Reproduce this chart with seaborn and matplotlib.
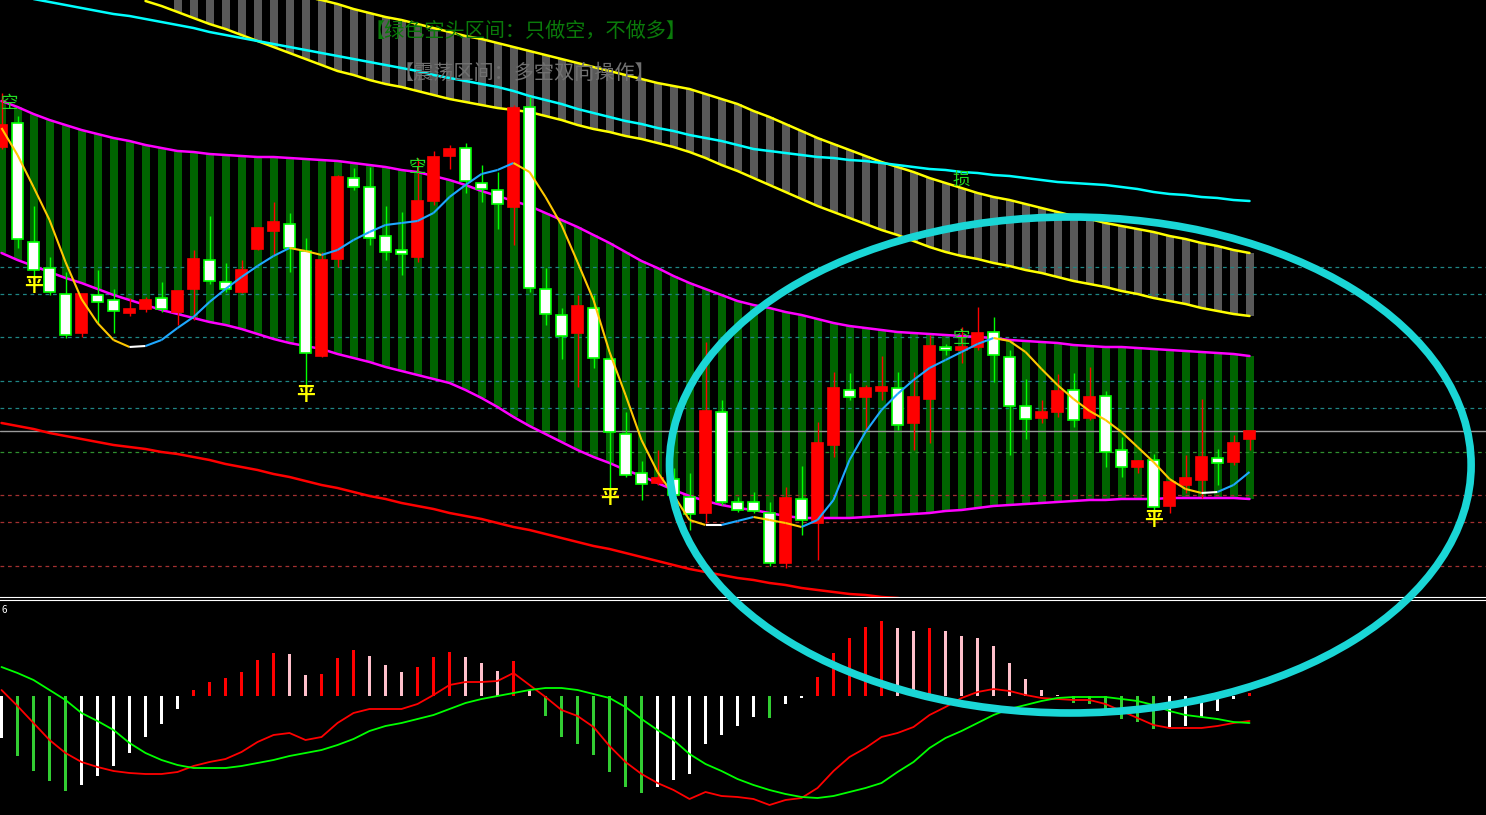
import numpy as np
import matplotlib
matplotlib.use("Agg")
import matplotlib.pyplot as plt
from matplotlib.patches import Ellipse
from matplotlib.collections import LineCollection
import seaborn as sns

nan = np.nan

# candles
opens = [45.3, 47.7, 35.8, 33.2, 30.6, 26.7, 30.5, 30.0, 28.7, 29.1,
         30.2, 28.8, 31.1, 34.0, 31.8, 30.8, 35.1, 36.9, 37.6, 34.9,
         24.4, 34.1, 42.2, 41.3, 36.4, 35.0, 34.3, 39.9, 44.4, 45.2,
         41.7, 41.0, 39.3, 49.3, 31.1, 28.5, 26.7, 29.2, 24.1, 16.6,
         12.7, 11.7, 12.1, 10.3, 8.7, 18.8, 9.8, 9.8, 8.7, 3.7,
         10.1, 7.7, 15.5, 21.0, 20.3, 20.9, 21.2, 17.7, 20.1, 25.3,
         25.0, 25.3, 26.8, 24.3, 19.4, 18.2, 18.8, 21.0, 18.2, 20.4,
         15.0, 13.3, 14.0, 9.4, 11.5, 12.0, 14.2, 13.8, 16.1]
highs = [50.7, 48.4, 39.4, 34.3, 32.8, 30.6, 33.0, 31.1, 30.2, 30.3,
         31.8, 30.9, 35.0, 38.4, 33.7, 34.0, 37.3, 39.8, 38.7, 36.2,
         34.8, 42.5, 43.2, 43.3, 39.4, 38.8, 44.2, 44.9, 45.5, 45.7,
         43.5, 42.8, 49.5, 50.3, 33.2, 29.2, 30.5, 30.5, 24.5, 18.8,
         13.9, 15.0, 13.2, 12.7, 25.8, 20.0, 10.3, 10.8, 9.8, 11.3,
         13.4, 17.8, 22.8, 22.7, 21.5, 24.4, 22.8, 22.8, 26.5, 25.6,
         27.3, 29.3, 28.3, 25.0, 22.1, 20.0, 22.6, 22.7, 23.3, 20.9,
         16.3, 14.0, 14.6, 11.8, 14.5, 20.1, 15.1, 16.5, 16.9]
lows = [45.1, 35.2, 32.3, 30.5, 26.2, 26.3, 27.7, 26.7, 28.4, 28.8,
        28.8, 27.5, 28.0, 31.6, 30.8, 30.7, 35.0, 34.5, 32.8, 21.5,
        24.3, 33.3, 41.0, 35.5, 34.0, 32.5, 33.8, 39.5, 43.1, 40.7,
        39.8, 37.1, 35.5, 30.8, 27.5, 24.1, 21.3, 23.2, 11.0, 12.3,
        10.0, 11.5, 10.3, 7.0, 7.7, 9.5, 8.8, 8.7, 3.4, 3.2,
        6.5, 4.0, 14.3, 20.0, 16.8, 20.0, 17.0, 15.0, 15.7, 24.5,
        23.7, 25.0, 21.8, 14.5, 16.1, 17.7, 18.3, 17.3, 18.0, 13.3,
        12.3, 12.7, 8.8, 8.7, 10.7, 10.2, 11.5, 13.5, 15.0]
closes = [47.5, 36.1, 33.0, 30.8, 26.5, 30.6, 29.8, 28.9, 29.1, 30.0,
          29.1, 30.9, 34.1, 31.9, 31.1, 33.0, 37.2, 37.8, 35.2, 24.7,
          34.0, 42.3, 41.3, 36.2, 34.8, 34.6, 39.9, 44.3, 45.1, 41.9,
          41.1, 39.6, 49.2, 31.2, 28.6, 26.4, 29.4, 24.2, 16.8, 12.5,
          11.6, 12.2, 10.5, 8.6, 18.9, 9.8, 9.0, 8.9, 3.7, 10.2,
          8.0, 15.7, 21.2, 20.3, 21.2, 21.3, 17.5, 20.3, 25.4, 25.0,
          25.3, 26.7, 24.5, 19.4, 18.1, 18.8, 20.9, 18.0, 20.3, 14.8,
          13.3, 13.9, 9.3, 11.8, 12.2, 14.3, 13.7, 15.7, 16.9]

# short moving average (yellow / blue / white)
ma_short = [47.2, 44.5, 41.3, 38.0, 33.8, 30.1, 27.7, 26.0, 25.3, 25.4,
            26.0, 27.2, 28.3, 29.8, 31.1, 32.3, 33.4, 34.4, 35.2, 34.9,
            34.5, 35.0, 36.0, 36.8, 37.5, 37.7, 37.9, 38.7, 40.3, 41.5,
            42.6, 43.0, 43.7, 42.8, 40.3, 37.5, 33.8, 30.0, 24.8, 20.5,
            16.0, 12.8, 10.5, 8.0, 7.5, 7.5, 7.9, 8.3, 8.0, 7.7,
            7.3, 8.0, 10.0, 14.0, 16.8, 19.0, 20.6, 22.0, 23.2, 24.0,
            24.8, 25.6, 26.2, 25.9, 24.8, 23.1, 21.5, 20.1, 18.9, 18.0,
            16.8, 15.3, 13.8, 12.1, 11.1, 10.7, 10.8, 11.5, 12.8]

# green band (magenta borders)
band_hi = [49.9, 49.3, 48.6, 48.0, 47.5, 47.0, 46.6, 46.2, 45.9, 45.5,
           45.2, 44.9, 44.8, 44.6, 44.5, 44.4, 44.3, 44.3, 44.2, 44.1,
           44.0, 43.9, 43.7, 43.5, 43.3, 43.0, 42.8, 42.4, 42.0, 41.5,
           40.9, 40.4, 39.9, 39.4, 38.7, 38.0, 37.3, 36.5, 35.7, 34.8,
           33.9, 33.2, 32.4, 31.7, 31.1, 30.5, 29.9, 29.5, 29.2, 28.8,
           28.5, 28.1, 27.7, 27.4, 27.2, 27.0, 26.8, 26.7, 26.6, 26.5,
           26.4, 26.3, 26.2, 26.0, 25.9, 25.8, 25.7, 25.5, 25.4, 25.3,
           25.3, 25.2, 25.1, 25.0, 24.9, 24.8, 24.7, 24.6, 24.4]
band_lo = [34.7, 34.0, 33.4, 32.8, 32.2, 31.7, 31.1, 30.5, 30.0, 29.5,
           29.0, 28.6, 28.2, 27.8, 27.5, 27.1, 26.6, 26.1, 25.7, 25.4,
           25.1, 24.6, 24.2, 23.8, 23.3, 22.9, 22.5, 22.1, 21.7, 21.0,
           20.2, 19.3, 18.3, 17.4, 16.6, 15.8, 15.0, 14.3, 13.7, 13.0,
           12.4, 11.7, 11.0, 10.4, 9.9, 9.5, 9.2, 9.0, 8.7, 8.4,
           8.2, 8.2, 8.2, 8.2, 8.3, 8.4, 8.5, 8.6, 8.7, 8.9,
           9.0, 9.2, 9.4, 9.5, 9.6, 9.7, 9.8, 9.9, 10.0, 10.0,
           10.1, 10.1, 10.1, 10.2, 10.2, 10.2, 10.2, 10.2, 10.1]

# grey band (yellow borders)
grey_hi = [nan] * 11 + [
    63.4, 63.0, 62.6, 62.2, 61.8, 61.4, 61.0, 60.7, 60.3,
    60.0, 59.6, 59.1, 58.7, 58.3, 58.0, 57.6, 57.2, 56.8, 56.4,
    56.1, 55.7, 55.3, 54.9, 54.5, 54.1, 53.7, 53.3, 52.9, 52.5,
    52.1, 51.7, 51.4, 51.1, 50.6, 50.1, 49.6, 48.9, 48.3, 47.6,
    46.9, 46.2, 45.6, 45.0, 44.4, 43.8, 43.3, 42.8, 42.2, 41.7,
    41.2, 40.7, 40.3, 40.0, 39.6, 39.2, 38.8, 38.4, 38.1, 37.7,
    37.4, 37.1, 36.8, 36.4, 36.1, 35.7, 35.4, 35.0, 34.7]
grey_lo = [nan] * 9 + [
    59.9, 59.4, 58.8, 58.2, 57.6, 57.1, 56.5, 55.9, 55.3, 54.7,
    54.1, 53.5, 52.9, 52.5, 52.0, 51.6, 51.3, 50.9, 50.5, 50.1,
    49.8, 49.5, 49.2, 49.0, 48.8, 48.4, 48.0, 47.5, 47.1, 46.8,
    46.4, 46.1, 45.7, 45.3, 44.8, 44.2, 43.5, 42.9, 42.2, 41.5,
    40.8, 40.1, 39.4, 38.8, 38.2, 37.6, 37.0, 36.5, 35.9, 35.3,
    34.8, 34.4, 34.1, 33.7, 33.4, 33.0, 32.7, 32.3, 31.9, 31.6,
    31.3, 30.9, 30.6, 30.2, 29.9, 29.6, 29.2, 28.9, 28.6, 28.4]

ma_cyan = [60.7, 60.4, 60.1, 59.8, 59.5, 59.2, 58.9, 58.6, 58.4, 58.1,
           57.8, 57.5, 57.2, 56.8, 56.5, 56.2, 55.9, 55.6, 55.3, 55.0,
           54.7, 54.4, 54.1, 53.8, 53.5, 53.2, 52.9, 52.5, 52.2, 51.9,
           51.6, 51.3, 50.9, 50.4, 50.0, 49.6, 49.1, 48.7, 48.3, 47.9,
           47.6, 47.2, 46.9, 46.5, 46.2, 45.9, 45.5, 45.1, 44.9, 44.7,
           44.5, 44.3, 44.2, 44.0, 43.9, 43.7, 43.5, 43.3, 43.1, 43.0,
           42.8, 42.7, 42.5, 42.4, 42.2, 42.0, 41.8, 41.7, 41.6, 41.5,
           41.3, 41.1, 40.8, 40.6, 40.5, 40.3, 40.2, 40.0, 39.9]
ma_long = [17.7, 17.4, 17.1, 16.7, 16.4, 16.1, 15.8, 15.5, 15.3, 15.1,
           14.8, 14.6, 14.3, 14.0, 13.6, 13.3, 13.0, 12.6, 12.3, 11.9,
           11.5, 11.2, 10.8, 10.4, 10.1, 9.7, 9.4, 9.1, 8.7, 8.4,
           8.1, 7.7, 7.3, 7.0, 6.6, 6.2, 5.8, 5.4, 5.1, 4.7,
           4.3, 3.9, 3.5, 3.1, 2.8, 2.5, 2.2, 2.0, 1.7, 1.5,
           1.2, 1.0, 0.8, 0.6, 0.5, 0.3, 0.2, 0.0, -0.1, -0.3,
           -0.4, -0.6, -0.7, -0.9, -1.0, -1.2, -1.3, -1.5, -1.6, -1.8,
           -1.9, -2.1, -2.2, -2.4, -2.5, -2.7, -2.8, -3.0, -3.1]

# price levels
teal_levels = [33.3, 30.6, 26.3, 21.9, 19.2]
last_price = 16.9
green_levels = [14.8]
red_levels = [10.5, 7.8, 3.4]

# MACD
hist = [-0.42, -0.60, -0.75, -0.85, -0.95, -0.89, -0.80, -0.70, -0.57, -0.41,
        -0.28, -0.13, 0.06, 0.14, 0.18, 0.24, 0.36, 0.43, 0.42, 0.21,
        0.22, 0.38, 0.46, 0.40, 0.31, 0.24, 0.29, 0.39, 0.44, 0.39,
        0.33, 0.25, 0.35, 0.06, -0.20, -0.41, -0.48, -0.59, -0.76, -0.91,
        -0.97, -0.91, -0.84, -0.78, -0.48, -0.39, -0.30, -0.21, -0.22, -0.08,
        -0.02, 0.19, 0.43, 0.58, 0.69, 0.75, 0.68, 0.65, 0.68, 0.65,
        0.60, 0.58, 0.50, 0.33, 0.17, 0.06, 0.01, -0.07, -0.08, -0.14,
        -0.23, -0.26, -0.33, -0.31, -0.30, -0.21, -0.15, -0.03, 0.03]
dif = [0.06, -0.10, -0.27, -0.44, -0.57, -0.66, -0.71, -0.75, -0.77, -0.78,
       -0.78, -0.76, -0.70, -0.66, -0.63, -0.56, -0.46, -0.39, -0.37, -0.44,
       -0.41, -0.27, -0.17, -0.13, -0.13, -0.13, -0.08, 0.01, 0.11, 0.14,
       0.14, 0.15, 0.23, 0.11, -0.01, -0.14, -0.20, -0.31, -0.50, -0.66,
       -0.78, -0.87, -0.94, -1.03, -0.96, -1.00, -1.01, -1.03, -1.09, -1.04,
       -1.02, -0.92, -0.75, -0.61, -0.52, -0.41, -0.37, -0.31, -0.19, -0.11,
       -0.02, 0.04, 0.07, 0.05, 0.01, -0.02, -0.03, -0.04, -0.04, -0.08,
       -0.15, -0.22, -0.29, -0.32, -0.32, -0.32, -0.30, -0.27, -0.25]
dea = [0.29, 0.23, 0.16, 0.06, -0.04, -0.17, -0.25, -0.34, -0.47, -0.57,
       -0.64, -0.69, -0.72, -0.72, -0.72, -0.70, -0.67, -0.64, -0.60, -0.57,
       -0.54, -0.49, -0.43, -0.35, -0.30, -0.27, -0.23, -0.19, -0.13, -0.07,
       -0.03, 0.00, 0.03, 0.06, 0.08, 0.08, 0.06, 0.02, -0.02, -0.11,
       -0.23, -0.34, -0.44, -0.58, -0.68, -0.75, -0.83, -0.89, -0.94, -0.98,
       -1.01, -1.02, -1.00, -0.96, -0.92, -0.87, -0.76, -0.66, -0.52, -0.42,
       -0.35, -0.27, -0.19, -0.13, -0.09, -0.05, -0.02, -0.01, -0.01, -0.01,
       -0.03, -0.05, -0.09, -0.15, -0.19, -0.21, -0.23, -0.26, -0.27]

# signals
ping_idx = [2, 19, 38, 72]
ping_y = [31.4, 20.5, 10.2, 8.0]
kong_idx = [0.5, 26, 60]
kong_y = [49.7, 43.3, 26.2]
sun_idx = [60]
sun_y = [42.0]

title_bear = "【绿色空头区间：只做空，不做多】"
title_range = "【震荡区间：多空双向操作】"

sns.set_style("dark", {"axes.facecolor": "black", "figure.facecolor": "black"})
plt.rcParams['font.family'] = ['Noto Sans CJK SC', 'DejaVu Sans']

o = np.array(opens); h = np.array(highs); l = np.array(lows); c = np.array(closes)
n = len(c)
idx = np.arange(n)
xlim = (-0.094, 92.78)

fig = plt.figure(figsize=(14.86, 8.15), dpi=100, facecolor='black')
ax = fig.add_axes([0, 0.2675, 1, 0.7325])
ax2 = fig.add_axes([0, 0, 1, 0.2638])
ax.set_zorder(3)

# bands
bh = np.array(band_hi); bl = np.array(band_lo)
ax.bar(idx, bh - bl, bottom=bl, width=0.5, color='#006400', linewidth=0, zorder=1)
gh = np.array(grey_hi); gl = np.array(grey_lo)
ok = ~np.isnan(gh) & ~np.isnan(gl)
ax.bar(idx[ok], gh[ok] - gl[ok], bottom=gl[ok], width=0.5, color='#595959',
       linewidth=0, zorder=1)

# levels
for v in teal_levels:
    ax.axhline(v, color='#1f8585', lw=0.9, ls=(0, (3, 3)), zorder=2)
for v in green_levels:
    ax.axhline(v, color='#2f8f2f', lw=0.9, ls=(0, (3, 3)), zorder=2)
for v in red_levels:
    ax.axhline(v, color='#a33030', lw=0.9, ls=(0, (3, 3)), zorder=2)
ax.axhline(last_price, color='#9a9a9a', lw=1.0, zorder=2)

# lines
sns.lineplot(x=idx, y=bh, ax=ax, color='#ff00ff', linewidth=1.8, zorder=3)
sns.lineplot(x=idx, y=bl, ax=ax, color='#ff00ff', linewidth=1.8, zorder=3)
sns.lineplot(x=idx, y=gh, ax=ax, color='#ffff00', linewidth=1.8, zorder=3)
sns.lineplot(x=idx, y=gl, ax=ax, color='#ffff00', linewidth=1.8, zorder=3)
sns.lineplot(x=idx, y=ma_cyan, ax=ax, color='#00ffff', linewidth=1.8, zorder=3)
sns.lineplot(x=idx, y=ma_long, ax=ax, color='#ff0000', linewidth=1.8, zorder=3)

# candles
up = c > o
wick_col = np.where(up, '#ff0000', '#00ff00')
ax.vlines(idx, l, h, colors=wick_col, lw=1.0, zorder=4)
body_lo = np.minimum(o, c)
body_h = np.maximum(np.abs(c - o), 0.3)
ax.bar(idx, body_h, bottom=body_lo, width=0.69,
       color=np.where(up, '#ff0000', '#ffffff'),
       edgecolor=np.where(up, '#ff0000', '#00ff00'), linewidth=1.2, zorder=5)

# short MA coloured by direction
ms = np.array(ma_short)
pts = np.column_stack([idx, ms])
segs = np.stack([pts[:-1], pts[1:]], axis=1)
d = np.diff(ms)
seg_col = np.where(d > 0.15, '#1ea8ff', np.where(d < -0.15, '#ffc800', '#ffffff'))
ax.add_collection(LineCollection(segs, colors=seg_col, linewidths=1.5, zorder=6))

# signal marks
for i, y in zip(ping_idx, ping_y):
    ax.text(i, y, "平", color='#ffff00', fontsize=13.5, fontweight='bold',
            ha='center', va='center', zorder=7)
for i, y in zip(kong_idx, kong_y):
    ax.text(i, y, "空", color='#22dd22', fontsize=12.5, ha='center', va='center', zorder=7)
for i, y in zip(sun_idx, sun_y):
    ax.text(i, y, "损", color='#22dd22', fontsize=12.5, ha='center', va='center', zorder=7)

ax.text(22.7, 56.9, title_bear, color='#0a7a0a', fontsize=14.5, ha='left', va='center', zorder=7)
ax.text(24.5, 52.7, title_range, color='#707070', fontsize=14.5, ha='left', va='center', zorder=7)

# highlight ellipse
ax.add_patch(Ellipse((66.8, 13.5), 50.1, 49.6, fill=False, edgecolor='#1ad6d6',
                     lw=5.5, clip_on=False, zorder=10))

ax.set_xlim(*xlim)
ax.set_ylim(0.3, 60)

# MACD panel
hv = np.array(hist)
prev = np.r_[hv[0] - 0.05, hv[:-1]]
hcol = np.where(hv >= 0, np.where(hv >= prev, '#ff0000', '#ffc0cb'),
                np.where(hv < prev, '#32cd32', '#ffffff'))
ax2.bar(idx, hv, width=0.2, color=hcol, linewidth=0, zorder=2)
sns.lineplot(x=idx, y=dif, ax=ax2, color='#ff0000', linewidth=1.3, zorder=3)
sns.lineplot(x=idx, y=dea, ax=ax2, color='#00ff00', linewidth=1.3, zorder=3)
ax2.text(0.001, 0.955, "6", color='white', fontsize=7, transform=ax2.transAxes,
         ha='left', va='center')
ax2.set_xlim(*xlim)
ax2.set_ylim(-1.19, 0.96)

for a in (ax, ax2):
    a.set_facecolor('black')
    a.set_xticks([]); a.set_yticks([])
    a.set_xlabel(''); a.set_ylabel('')
    a.grid(False)
    for s in a.spines.values():
        s.set_visible(False)
ax.spines['bottom'].set_visible(True)
ax.spines['bottom'].set_color('white')
ax.spines['bottom'].set_linewidth(0.8)
ax2.spines['top'].set_visible(True)
ax2.spines['top'].set_color('white')
ax2.spines['top'].set_linewidth(0.8)

fig.savefig("out.png", dpi=100, facecolor='black')
